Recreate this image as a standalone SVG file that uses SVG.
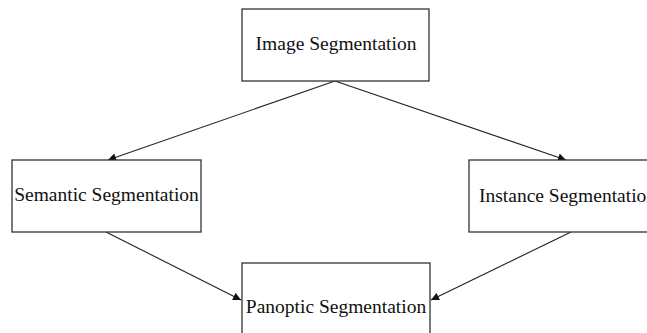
<svg xmlns="http://www.w3.org/2000/svg" width="647" height="333" viewBox="0 0 647 333">
<style>
.box{fill:#fff;stroke:#333;stroke-width:1.3}
.lbl{font-family:"Liberation Serif","Times New Roman",serif;font-size:19.5px;fill:#111;text-anchor:middle}
.con{stroke:#222;stroke-width:1.1;fill:none;marker-end:url(#ah)}
</style>
<defs>
<marker id="ah" viewBox="0 0 10 10" refX="10" refY="5" markerWidth="10" markerHeight="8" markerUnits="userSpaceOnUse" orient="auto">
<path d="M0,0 L10,5 L0,10 Z" fill="#111"/>
</marker>
</defs>
<rect width="647" height="333" fill="#fff"/>
<g id="connectors">
<line class="con" x1="335" y1="81" x2="108" y2="160"/>
<line class="con" x1="335" y1="81" x2="566" y2="160"/>
<line class="con" x1="106" y1="232" x2="241" y2="300"/>
<line class="con" x1="571" y1="232" x2="431" y2="300"/>
</g>
<g id="image-segmentation">
<rect class="box" x="242" y="9" width="187" height="72"/>
<text class="lbl" x="336" y="50">Image Segmentation</text>
</g>
<g id="semantic-segmentation">
<rect class="box" x="12" y="160" width="189" height="72"/>
<text class="lbl" x="106.5" y="201">Semantic Segmentation</text>
</g>
<g id="instance-segmentation">
<rect class="box" x="469" y="160" width="190" height="72"/>
<text class="lbl" x="479" y="202" style="text-anchor:start">Instance Segmentation</text>
</g>
<g id="panoptic-segmentation">
<rect class="box" x="242" y="263" width="188" height="80"/>
<text class="lbl" x="336" y="313">Panoptic Segmentation</text>
</g>
</svg>
